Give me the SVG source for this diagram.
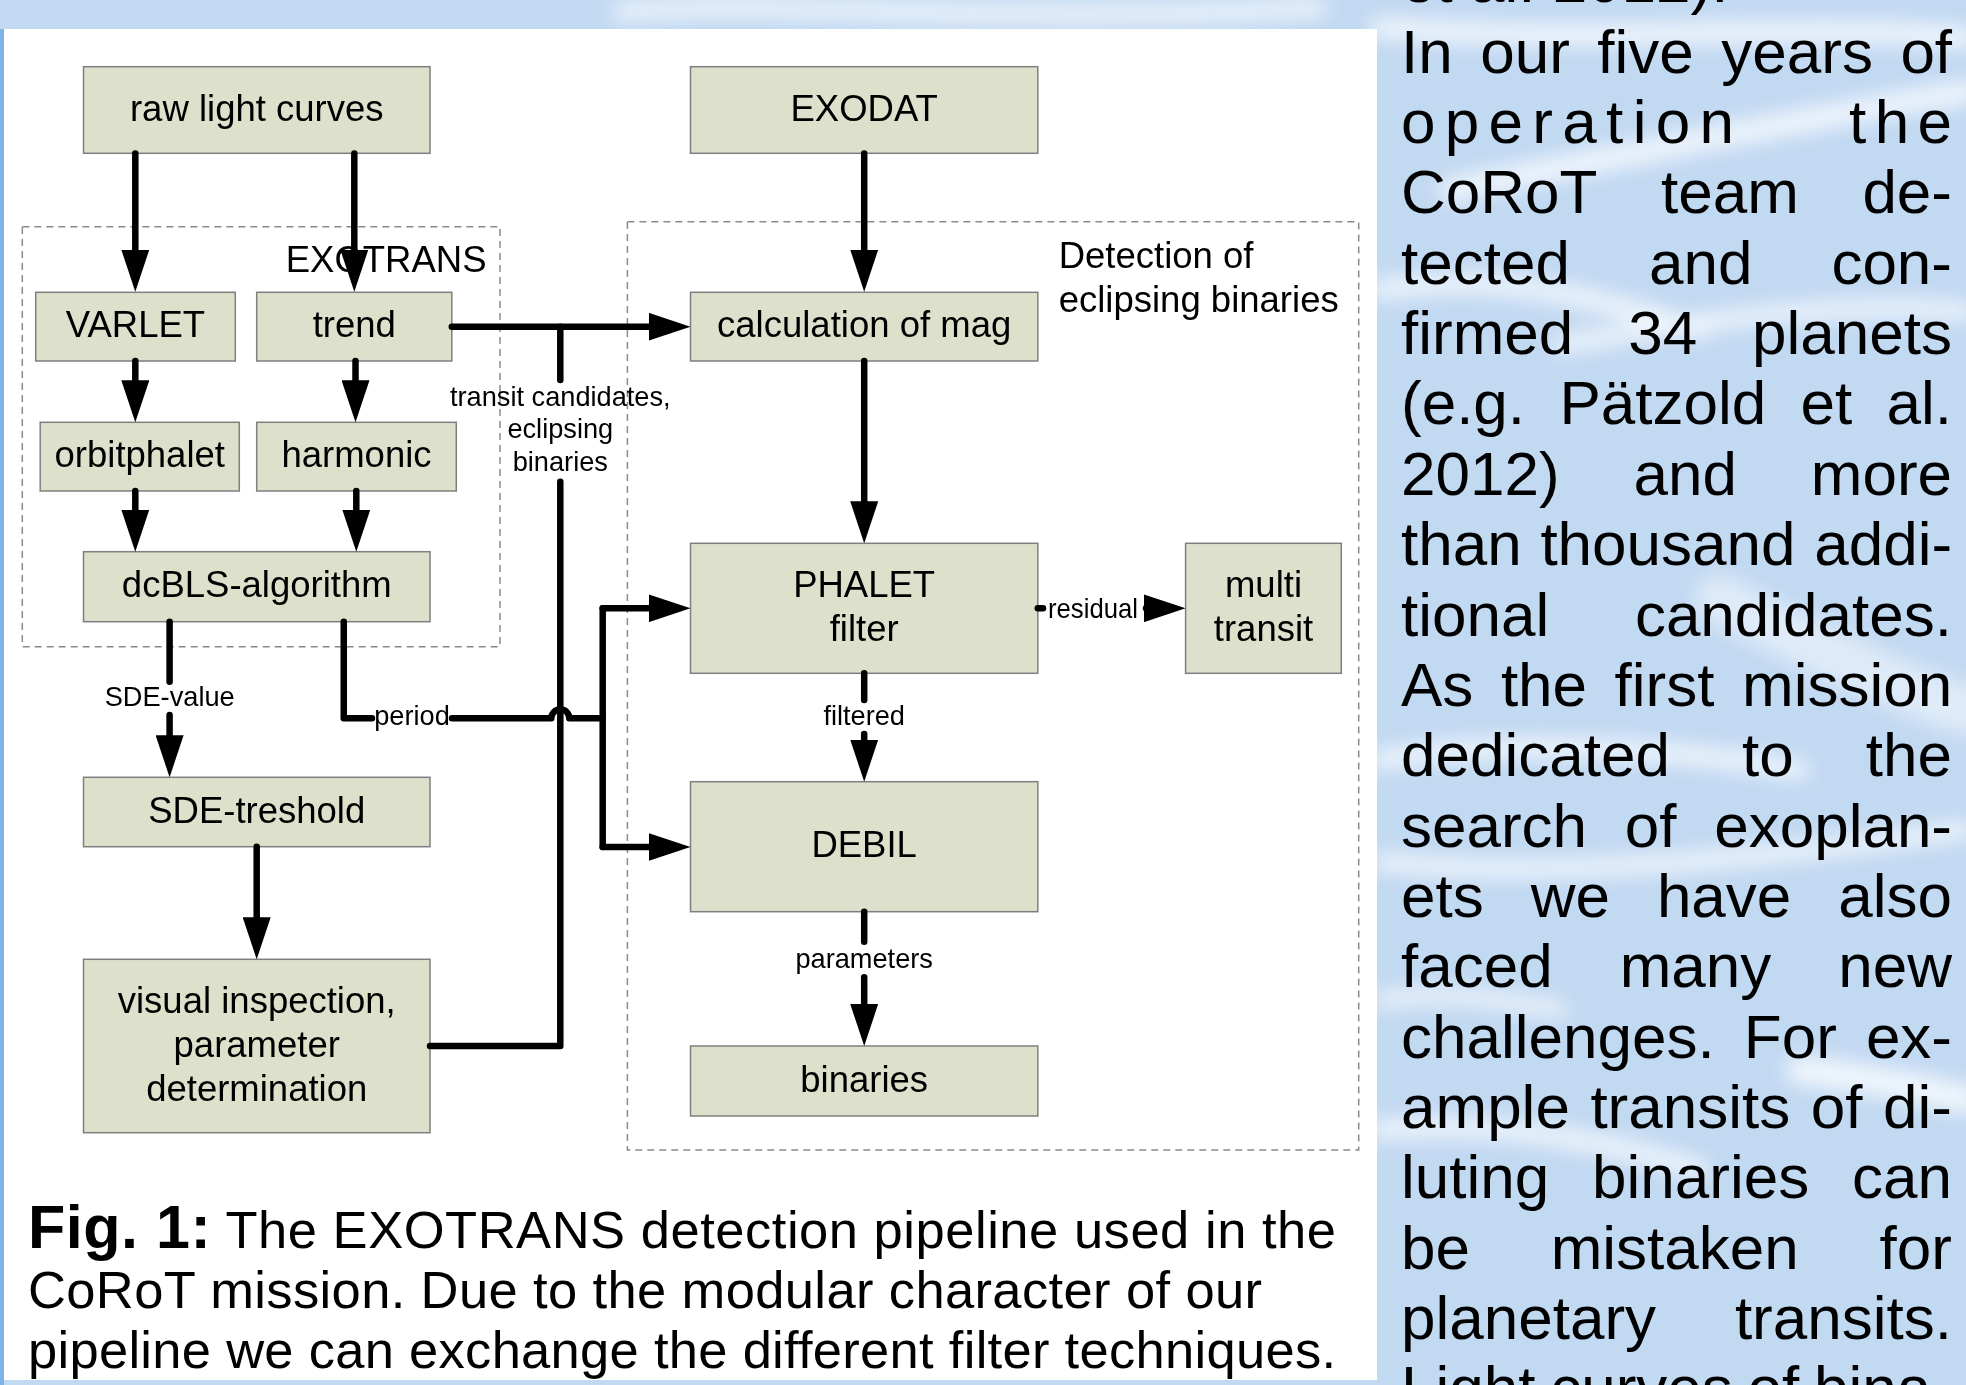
<svg xmlns="http://www.w3.org/2000/svg" width="1966" height="1385" viewBox="0 0 1966 1385">
<style>
text{font-family:"Liberation Sans",Arial,Helvetica,sans-serif;fill:#000}
.node rect{fill:#dde0cb;stroke:#7f7f7f;stroke-width:1.5}
.nt{font-size:36.5px;text-anchor:middle}
.lbl{font-size:27.2px;text-anchor:middle}
.grp{fill:none;stroke:#8a8a8a;stroke-width:1.5;stroke-dasharray:7 5}
.conn path{fill:none;stroke:#000;stroke-width:6.5;stroke-linecap:round;stroke-linejoin:round}
.arr{marker-end:url(#ah)}
.col text{font-size:62px}
.cap{font-size:52.5px}
</style>
<defs>
<marker id="ah" markerUnits="userSpaceOnUse" viewBox="0 0 42 28" markerWidth="42" markerHeight="28" refX="4" refY="14" orient="auto"><path d="M0,0 L42,14 L0,28 z" fill="#000"/></marker>
<filter id="blur" x="-20%" y="-100%" width="140%" height="300%"><feGaussianBlur stdDeviation="10"/></filter>
</defs>

<!-- background -->
<rect x="0" y="0" width="1966" height="1385" fill="#c2d9f2"/>
<g filter="url(#blur)" fill="none" stroke="#ffffff" stroke-linecap="round" opacity="0.8">
<path d="M620,12 C800,0 1000,26 1320,8" stroke-width="16"/>
<path d="M1380,28 C1600,45 1800,22 1966,38" stroke-width="20"/>
<path d="M1450,190 C1650,150 1800,120 1966,92" stroke-width="22"/>
<path d="M1380,290 C1500,270 1600,300 1700,330" stroke-width="18"/>
<path d="M1560,345 C1700,320 1850,300 1966,312" stroke-width="16"/>
<path d="M1720,600 C1800,640 1900,690 1966,710" stroke-width="50" opacity="0.6"/>
<path d="M1380,760 C1500,740 1650,745 1800,770" stroke-width="18"/>
<path d="M1380,862 C1550,880 1750,860 1966,830" stroke-width="16"/>
<path d="M1380,1000 C1450,990 1500,1000 1560,1010" stroke-width="14"/>
<path d="M1800,1070 C1880,1080 1930,1090 1966,1100" stroke-width="28"/>
<path d="M1380,1130 C1500,1120 1600,1140 1700,1170" stroke-width="18"/>
</g>
<rect x="0" y="29" width="4" height="1356" fill="#80b3e8"/>
<rect x="4" y="29" width="1373" height="1351" fill="#ffffff"/>

<!-- group frames -->
<rect class="grp" x="22.3" y="226.7" width="477.7" height="420"/>
<rect class="grp" x="627.4" y="221.7" width="731.3" height="928.3"/>
<text x="285.7" y="271.7" style="font-size:36.5px">EXOTRANS</text>
<text x="1058.7" y="268.3" style="font-size:36.5px">Detection of</text>
<text x="1058.7" y="311.7" style="font-size:36.5px">eclipsing binaries</text>

<!-- nodes -->
<g class="node" id="raw"><rect x="83.5" y="66.7" width="346.5" height="86.6"/><text class="nt" x="256.75" y="120.5">raw light curves</text></g>
<g class="node" id="exodat"><rect x="690.5" y="66.7" width="347.3" height="86.6"/><text class="nt" x="864.15" y="120.5">EXODAT</text></g>
<g class="node" id="varlet"><rect x="35.7" y="292.3" width="199.6" height="68.7"/><text class="nt" x="135.5" y="337.3">VARLET</text></g>
<g class="node" id="trend"><rect x="256.7" y="292.3" width="195.1" height="68.7"/><text class="nt" x="354.25" y="337.3">trend</text></g>
<g class="node" id="orbitphalet"><rect x="40.2" y="422.3" width="199.1" height="68.7"/><text class="nt" x="139.75" y="466.7">orbitphalet</text></g>
<g class="node" id="harmonic"><rect x="256.7" y="422.3" width="199.6" height="68.7"/><text class="nt" x="356.5" y="466.7">harmonic</text></g>
<g class="node" id="dcbls"><rect x="83.5" y="551.7" width="346.5" height="70"/><text class="nt" x="256.75" y="597.3">dcBLS-algorithm</text></g>
<g class="node" id="sde"><rect x="83.5" y="777.3" width="346.5" height="69.4"/><text class="nt" x="256.75" y="822.7">SDE-treshold</text></g>
<g class="node" id="visual"><rect x="83.5" y="959.3" width="346.5" height="173.4"/><text class="nt" x="256.75" y="1013">visual inspection,</text><text class="nt" x="256.75" y="1057">parameter</text><text class="nt" x="256.75" y="1101">determination</text></g>
<g class="node" id="calc"><rect x="690.5" y="292.3" width="347.3" height="68.7"/><text class="nt" x="864.15" y="337.3">calculation of mag</text></g>
<g class="node" id="phalet"><rect x="690.5" y="543.3" width="347.3" height="130"/><text class="nt" x="864.15" y="597.3">PHALET</text><text class="nt" x="864.15" y="641">filter</text></g>
<g class="node" id="multi"><rect x="1185.6" y="543.3" width="155.7" height="130"/><text class="nt" x="1263.5" y="597.3">multi</text><text class="nt" x="1263.5" y="641">transit</text></g>
<g class="node" id="debil"><rect x="690.5" y="781.7" width="347.3" height="130"/><text class="nt" x="864.15" y="856.7">DEBIL</text></g>
<g class="node" id="binaries"><rect x="690.5" y="1046" width="347.3" height="70"/><text class="nt" x="864.15" y="1091.5">binaries</text></g>

<!-- connectors -->
<g class="conn" id="connectors">
<path class="arr" d="M135.3,153.5 V253.7"/>
<path class="arr" d="M354.3,153.5 V253.7"/>
<path class="arr" d="M864.2,153.5 V253.7"/>
<path class="arr" d="M135.3,361 V384.3"/>
<path class="arr" d="M355.5,361 V384.3"/>
<path class="arr" d="M135.3,491 V513.7"/>
<path class="arr" d="M356.3,491 V513.7"/>
<path class="arr" d="M451.8,326.7 H652.5"/>
<path d="M430,1046 H560.3 V481.7"/>
<path d="M560.3,380 V326.7"/>
<path class="arr" d="M864.2,361 V505.3"/>
<path d="M169.6,621.7 V681.7"/>
<path class="arr" d="M169.6,715 V739.3"/>
<path class="arr" d="M256.7,846.7 V921.3"/>
<path d="M343.75,621.7 V718.3 H372"/>
<path d="M452,718.3 H551.3 A9,9 0 0 1 569.3,718.3 H602.7"/>
<path d="M602.7,608.3 V847"/>
<path class="arr" d="M602.7,608.3 H652.5"/>
<path class="arr" d="M602.7,847 H652.5"/>
<path d="M1037.8,608.3 H1043"/>
<path class="arr" d="M1146,608.3 H1147.6"/>
<path d="M864.2,673.3 V700"/>
<path class="arr" d="M864.2,734 V743.7"/>
<path d="M864.2,911.7 V941.7"/>
<path class="arr" d="M864.2,977.3 V1008"/>
<text class="lbl" x="560.3" y="406">transit candidates,</text>
<text class="lbl" x="560.3" y="438">eclipsing</text>
<text class="lbl" x="560.3" y="471">binaries</text>
<text class="lbl" x="169.7" y="706">SDE-value</text>
<text class="lbl" x="412" y="725">period</text>
<text class="lbl" x="1048" y="618" style="text-anchor:start" textLength="90" lengthAdjust="spacingAndGlyphs">residual</text>
<text class="lbl" x="864.2" y="725">filtered</text>
<text class="lbl" x="864.2" y="968.3">parameters</text>
</g>

<!-- caption -->
<text class="cap" x="28" y="1248" textLength="1308" lengthAdjust="spacing"><tspan font-weight="bold" style="font-size:61px">Fig. 1:</tspan> The EXOTRANS detection pipeline used in the</text>
<text class="cap" x="28" y="1308" textLength="1234" lengthAdjust="spacing">CoRoT mission. Due to the modular character of our</text>
<text class="cap" x="28" y="1368" textLength="1308" lengthAdjust="spacing">pipeline we can exchange the different filter techniques.</text>

<!-- right column text -->
<g class="col">
<text x="1401" y="2.35">et al. 2012).</text>
<text y="72.7"><tspan x="1401">In</tspan><tspan x="1480.2">our</tspan><tspan x="1597.3">five</tspan><tspan x="1721.3">years</tspan><tspan x="1900.4">of</tspan></text>
<text x="1401" y="143.05" textLength="333" lengthAdjust="spacing">operation</text>
<text x="1849" y="143.05" textLength="103" lengthAdjust="spacing">the</text>
<text y="213.4"><tspan x="1401">CoRoT</tspan><tspan x="1661">team</tspan><tspan x="1862.4">de-</tspan></text>
<text y="283.75"><tspan x="1401">tected</tspan><tspan x="1649">and</tspan><tspan x="1831.4">con-</tspan></text>
<text y="354.1"><tspan x="1401">firmed</tspan><tspan x="1628.2">34</tspan><tspan x="1752.1">planets</tspan></text>
<text y="424.45"><tspan x="1401">(e.g.</tspan><tspan x="1559.4">Pätzold</tspan><tspan x="1800.5">et</tspan><tspan x="1886.5">al.</tspan></text>
<text y="494.8"><tspan x="1401">2012)</tspan><tspan x="1633.5">and</tspan><tspan x="1810.8">more</tspan></text>
<text y="565.15"><tspan x="1401">than</tspan><tspan x="1540.4">thousand</tspan><tspan x="1814.2">addi-</tspan></text>
<text y="635.5"><tspan x="1401">tional</tspan><tspan x="1634.9">candidates.</tspan></text>
<text y="705.85"><tspan x="1401">As</tspan><tspan x="1500.9">the</tspan><tspan x="1614.6">first</tspan><tspan x="1742">mission</tspan></text>
<text y="776.2"><tspan x="1401">dedicated</tspan><tspan x="1742">to</tspan><tspan x="1865.8">the</tspan></text>
<text y="846.55"><tspan x="1401">search</tspan><tspan x="1624.8">of</tspan><tspan x="1714.2">exoplan-</tspan></text>
<text y="916.9"><tspan x="1401">ets</tspan><tspan x="1530.7">we</tspan><tspan x="1656.9">have</tspan><tspan x="1838.3">also</tspan></text>
<text y="987.25"><tspan x="1401">faced</tspan><tspan x="1619.7">many</tspan><tspan x="1838.3">new</tspan></text>
<text y="1057.6"><tspan x="1401">challenges.</tspan><tspan x="1743.8">For</tspan><tspan x="1865.9">ex-</tspan></text>
<text y="1127.95"><tspan x="1401">ample</tspan><tspan x="1590.4">transits</tspan><tspan x="1810.8">of</tspan><tspan x="1883.1">di-</tspan></text>
<text y="1198.3"><tspan x="1401">luting</tspan><tspan x="1592.1">binaries</tspan><tspan x="1852.1">can</tspan></text>
<text y="1268.65"><tspan x="1401">be</tspan><tspan x="1550.7">mistaken</tspan><tspan x="1879.6">for</tspan></text>
<text y="1339"><tspan x="1401">planetary</tspan><tspan x="1734.9">transits.</tspan></text>
<text y="1409.35"><tspan x="1401">Light</tspan><tspan x="1550.2">curves</tspan><tspan x="1747.6">of</tspan><tspan x="1814.1">bina-</tspan></text>
</g>
</svg>
